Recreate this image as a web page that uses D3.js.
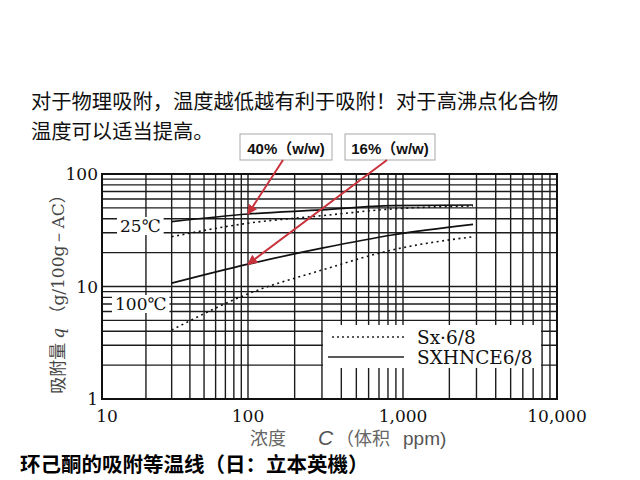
<!DOCTYPE html>
<html>
<head>
<meta charset="utf-8">
<script src="https://cdn.jsdelivr.net/npm/d3@7"></script>
<style>
  html, body { margin: 0; padding: 0; background: #fff; }
  svg { display: block; }
</style>
</head>
<body>
<svg id="chart" width="640" height="480"></svg>
<script>
// ---- data ----
const conc = [30, 100, 300, 850, 2850];          // ppm
const sx25 = [27.7, 36.5, 42.6, 48.9, 52];       // Sx-6/8, 25°C (dotted)
const sxh25 = [37.7, 44.1, 47.9, 52.3, 53];      // SXHNCE6/8, 25°C (solid)
const sx100 = [4.1, 8.6, 14, 21.1, 27.7];        // Sx-6/8, 100°C (dotted)
const sxh100 = [10.7, 15.8, 21.9, 28.7, 35.7];   // SXHNCE6/8, 100°C (solid)
const xTicks = [10, 100, 1000, 10000];
const xTickLabels = ["10", "100", "1,000", "10,000"];
const yTicks = [1, 10, 100];
const yTickLabels = ["1", "10", "100"];
const legendNames = ["Sx·6/8", "SXHNCE6/8"];
const callouts = ["40%（w/w)", "16%（w/w)"];

const svg = d3.select("#chart");
const x = d3.scaleLog().domain([10, 100, 1000, 10000]).range([102, 248, 403, 557]);
const y = d3.scaleLog().domain([1, 100]).range([399, 174]);

// ---- headline text ----
const cjk = "'Noto Sans CJK SC', sans-serif";
svg.append("text").attr("x", 31).attr("y", 109)
  .style("font-family", cjk).style("font-size", "20.3px").attr("fill", "#111")
  .text("对于物理吸附，温度越低越有利于吸附！对于高沸点化合物");
svg.append("text").attr("x", 31).attr("y", 139)
  .style("font-family", cjk).style("font-size", "20.3px").attr("fill", "#111")
  .text("温度可以适当提高。");

// ---- grid ----
const xGrid = [];
[10, 100, 1000].forEach(d => { for (let k = 1; k <= 9; k++) xGrid.push(d * k); });
xGrid.push(10000);
const yGrid = [];
[1, 10].forEach(d => { for (let k = 1; k <= 9; k++) yGrid.push(d * k); });
yGrid.push(100);

const g = svg.append("g");
g.selectAll("line.vx").data(xGrid).join("line")
  .attr("x1", d => x(d)).attr("x2", d => x(d))
  .attr("y1", y(1)).attr("y2", y(100))
  .attr("stroke", "#1c1c1c").attr("stroke-width", 1.4);
g.selectAll("line.hy").data(yGrid).join("line")
  .attr("y1", d => y(d)).attr("y2", d => y(d))
  .attr("x1", x(10)).attr("x2", x(10000))
  .attr("stroke", "#1c1c1c").attr("stroke-width", 1.4);

// frame
g.append("rect").attr("x", x(10)).attr("y", y(100))
  .attr("width", x(10000) - x(10)).attr("height", y(1) - y(100))
  .attr("fill", "none").attr("stroke", "#111").attr("stroke-width", 2);

// legend background
g.append("rect").attr("x", 323).attr("y", 325).attr("width", 218).attr("height", 43)
  .attr("fill", "#fff");

// ---- temperature labels ----
const serif = "'DejaVu Serif', serif";
[["25℃", 120, 232], ["100℃", 115, 310]].forEach(([t, tx, ty]) => {
  const el = svg.append("text").attr("x", tx).attr("y", ty)
    .style("font-family", serif).style("font-size", "17px").attr("fill", "#111").text(t);
  const b = el.node().getBBox();
  svg.insert("rect", "text:last-of-type")
    .attr("x", b.x - 3).attr("y", b.y + 1).attr("width", b.width + 6).attr("height", b.height - 2)
    .attr("fill", "#fff");
});

// ---- curves ----
const line = d3.line().x(d => x(d[0])).y(d => y(d[1])).curve(d3.curveMonotoneX);
const series = [
  { v: sx25, dash: "2,3.5", w: 1.6 },
  { v: sxh25, dash: null, w: 1.7 },
  { v: sx100, dash: "2,3.5", w: 1.6 },
  { v: sxh100, dash: null, w: 1.7 }
];
series.forEach(s => {
  svg.append("path").datum(conc.map((c, i) => [c, s.v[i]]))
    .attr("d", line).attr("fill", "none").attr("stroke", "#111")
    .attr("stroke-width", s.w).attr("stroke-dasharray", s.dash);
});

// ---- legend ----
svg.append("line").attr("x1", 332).attr("x2", 404).attr("y1", 337).attr("y2", 337)
  .attr("stroke", "#222").attr("stroke-width", 1.3).attr("stroke-dasharray", "2,3");
svg.append("line").attr("x1", 328).attr("x2", 404).attr("y1", 357).attr("y2", 357)
  .attr("stroke", "#222").attr("stroke-width", 1.5);
legendNames.forEach((n, i) => {
  svg.append("text").attr("x", 417).attr("y", 344 + i * 20)
    .style("font-family", serif).style("font-size", "18.5px").attr("fill", "#111").text(n);
});

// ---- axes tick labels ----
svg.selectAll("text.xt").data(xTicks).join("text")
  .attr("x", (d, i) => x(d) + (i === 0 ? 5 : 0)).attr("y", 422).attr("text-anchor", "middle")
  .style("font-family", serif).style("font-size", "17px").attr("fill", "#111")
  .text((d, i) => xTickLabels[i]);
svg.selectAll("text.yt").data(yTicks).join("text")
  .attr("x", 98).attr("y", d => y(d) + 6).attr("text-anchor", "end")
  .style("font-family", serif).style("font-size", "17px").attr("fill", "#111")
  .text((d, i) => yTickLabels[i]);

// ---- axis titles ----
svg.append("text").attr("x", 250).attr("y", 445)
  .style("font-family", cjk).style("font-size", "18px").attr("fill", "#666").text("浓度");
svg.append("text").attr("x", 318).attr("y", 445)
  .style("font-family", "'Liberation Sans', sans-serif").style("font-style", "italic")
  .style("font-size", "21px").attr("fill", "#555").text("C");
svg.append("text").attr("x", 336).attr("y", 445)
  .style("font-family", cjk).style("font-size", "18px").attr("fill", "#666").text("（体积");
svg.append("text").attr("x", 403).attr("y", 445)
  .style("font-family", "'Liberation Sans', sans-serif").style("font-size", "19px").attr("fill", "#555").text("ppm)");

const yt = svg.append("text").attr("transform", "translate(64,290) rotate(-90)")
  .attr("text-anchor", "middle").attr("fill", "#444").style("font-size", "17px");
yt.append("tspan").style("font-family", cjk).text("吸附量 ");
yt.append("tspan").style("font-family", serif).style("font-style", "italic").text("q ");
yt.append("tspan").style("font-family", cjk).text("（");
yt.append("tspan").style("font-family", serif).text("g/100g－AC");
yt.append("tspan").style("font-family", cjk).text("）");

// ---- callout boxes & arrows ----
const defs = svg.append("defs");
defs.append("marker").attr("id", "ah").attr("viewBox", "0 0 10 10")
  .attr("refX", 9).attr("refY", 5).attr("markerWidth", 5).attr("markerHeight", 5)
  .attr("markerUnits", "strokeWidth").attr("orient", "auto")
  .append("path").attr("d", "M0,0 L10,5 L0,10 z").attr("fill", "#c8323c");

const boxes = [
  { x0: 240, x1: 332, from: [283, 160], to: [100, sxh25[1]] },
  { x0: 345, x1: 435, from: [387, 160], to: [100, sxh100[1]] }
];
boxes.forEach((b, i) => {
  svg.append("rect").attr("x", b.x0).attr("y", 134).attr("width", b.x1 - b.x0).attr("height", 26)
    .attr("fill", "#fff").attr("stroke", "#a8a8a8").attr("stroke-width", 1);
  svg.append("text").attr("x", (b.x0 + b.x1) / 2).attr("y", 153.5).attr("text-anchor", "middle")
    .style("font-family", "'Liberation Sans', " + cjk).style("font-weight", "bold").style("font-size", "15px")
    .attr("fill", "#111").text(callouts[i]);
  svg.append("line").attr("x1", b.from[0]).attr("y1", b.from[1])
    .attr("x2", x(b.to[0])).attr("y2", y(b.to[1]))
    .attr("stroke", "#c8323c").attr("stroke-width", 2).attr("marker-end", "url(#ah)");
});

// ---- caption ----
svg.append("text").attr("x", 20).attr("y", 472)
  .style("font-family", cjk).style("font-weight", "bold").style("font-size", "20.5px").attr("fill", "#000")
  .text("环己酮的吸附等温线（日：立本英機）");
</script>
</body>
</html>
